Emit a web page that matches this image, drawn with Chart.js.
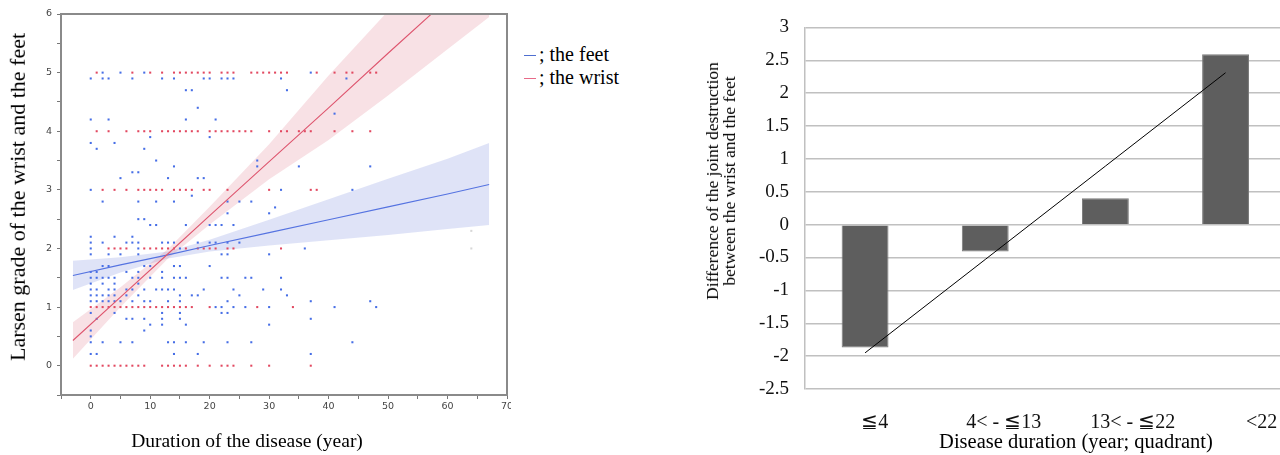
<!DOCTYPE html>
<html><head><meta charset="utf-8">
<script src="https://cdn.jsdelivr.net/npm/chart.js@4.4.1/dist/chart.umd.min.js"></script>
<style>
body{margin:0;width:1280px;height:455px;background:#fff;position:relative;overflow:hidden;}
.box{position:absolute;top:0;height:455px;overflow:hidden}
.t{position:absolute;white-space:nowrap;color:#000;font-family:"Liberation Serif","Times New Roman",serif;transform:translate(-50%,-50%);line-height:1.2;text-align:center}
.r{transform:translate(-50%,-50%) rotate(-90deg)}
.leg{position:absolute;left:524px;font-family:"Liberation Serif",serif;font-size:20px;color:#000;white-space:nowrap;line-height:1}
.mk{display:inline-block;width:12px;height:0;border-top:1.6px solid;vertical-align:middle;margin-right:3px;position:relative;top:-1px}
</style></head><body>
<div class="box" style="left:0;width:511px"><canvas id="c1" width="540" height="455"></canvas></div>
<div class="box" style="left:680px;width:600px"><canvas id="c2" width="620" height="455"></canvas></div>

<div class="t r" style="left:18px;top:197px;font-size:22px">Larsen grade of the wrist and the feet</div>
<div class="t" style="left:247px;top:441px;font-size:19.5px">Duration of the disease (year)</div>
<div class="leg" style="top:44px"><span class="mk" style="border-color:#4f6fd0"></span>; the feet</div>
<div class="leg" style="top:67px"><span class="mk" style="border-color:#e86a88"></span>; the wrist</div>

<div class="t r" style="left:721px;top:181px;font-size:17.5px;line-height:17px">Difference of the joint destruction<br>between the wrist and the feet</div>
<div class="t" style="left:1076px;top:441px;font-size:20.5px">Disease duration (year; quadrant)</div>

<script>
// ---------- Left panel data ----------
const xTicksYears = [0, 10, 20, 30, 40, 50, 60, 70];
const yTicksGrade = [0, 1, 2, 3, 4, 5, 6];

// wrist grades (integer) : disease duration of each patient at that grade
const wristAt0 = [0,1,2,3,4,5,6,7,8,9,12,13,14,15,16,18,20,22,23,24,27,30,37];
const wristAt1 = [0,1,2,3,4,5,6,7,8,9,10,11,12,13,14,15,16,17,20,28,34];
const wristAt2 = [3,4,5,6,9,10,11,12,13,14,16,18,19,20,21,23,24,32];
const wristAt3 = [2,4,6,8,9,10,11,12,14,15,16,17,19,20,23,30,37,38];
const wristAt4 = [1,3,6,8,9,10,12,13,14,15,16,17,18,20,21,22,23,24,25,26,27,30,32,33,35,36,37,41,44,47];
const wristAt5 = [1,7,10,12,14,15,16,17,18,19,20,22,23,24,27,28,29,30,31,32,33,38,41,43,44,47,48];

// feet grades (mean) : [duration, grade]
const feetPoints = [
 [2,5],[5,5],[9,5],[37,5],
 [0,4.9],[2,4.9],[3,4.9],[7,4.9],[12,4.9],[14,4.9],[19,4.9],[20,4.9],[22,4.9],[23,4.9],[24,4.9],[32,4.9],[43,4.9],
 [16,4.7],[17,4.7],[33,4.7],[18,4.4],[41,4.3],
 [0,4.2],[3,4.2],[16,4.2],[21,4.2],[10,3.9],[20,3.9],[0,3.8],[4,3.8],[1,3.7],[9,3.7],
 [11,3.5],[28,3.5],[14,3.4],[28,3.4],[35,3.4],[47,3.4],[7,3.3],[8,3.3],
 [5,3.2],[13,3.2],[18,3.2],[19,3.2],[0,3],[32,3],[44,3],[17,2.9],
 [2,2.8],[8,2.8],[11,2.8],[14,2.8],[23,2.8],[25,2.8],[27,2.8],[31,2.7],[23,2.6],[30,2.6],[8,2.5],[9,2.5],
 [10,2.4],[11,2.4],[16,2.4],[20,2.4],[21,2.4],[22,2.4],[24,2.4],[0,2.2],[4,2.2],[7,2.2],
 [0,2.1],[2,2.1],[6,2.1],[7,2.1],[8,2.1],[12,2.1],[13,2.1],[14,2.1],[18,2.1],[20,2.1],[21,2.1],[23,2.1],[25,2.1],
 [0,2],[8,2],[15,2],[36,2],
 [0,1.9],[3,1.9],[5,1.9],[8,1.9],[22,1.9],[23,1.9],[30,1.9],
 [2,1.7],[3,1.7],[9,1.7],[10,1.7],[14,1.7],[15,1.7],[20,1.7],
 [0,1.6],[1,1.6],[6,1.6],[8,1.6],[12,1.6],
 [0,1.5],[1,1.5],[2,1.5],[3,1.5],[4,1.5],[7,1.5],[8,1.5],[10,1.5],[12,1.5],[14,1.5],[15,1.5],[16,1.5],[22,1.5],[23,1.5],[26,1.5],[27,1.5],[32,1.5],
 [0,1.4],[2,1.4],[4,1.4],[8,1.4],
 [0,1.3],[1,1.3],[3,1.3],[4,1.3],[6,1.3],[7,1.3],[9,1.3],[11,1.3],[12,1.3],[13,1.3],[14,1.3],[19,1.3],[24,1.3],[29,1.3],[32,1.3],
 [0,1.2],[1,1.2],[2,1.2],[3,1.2],[4,1.2],[6,1.2],[8,1.2],[15,1.2],[17,1.2],[18,1.2],[25,1.2],[33,1.2],
 [0,1.1],[1,1.1],[2,1.1],[3,1.1],[4,1.1],[5,1.1],[7,1.1],[9,1.1],[10,1.1],[13,1.1],[15,1.1],[23,1.1],[37,1.1],[47,1.1],
 [21,1],[22,1],[24,1],[26,1],[30,1],[41,1],[48,1],
 [0,0.9],[4,0.9],[12,0.9],[15,0.9],[22,0.9],[23,0.9],
 [1,0.8],[6,0.8],[7,0.8],[9,0.8],[12,0.8],[15,0.8],[37,0.8],
 [10,0.7],[12,0.7],[16,0.7],[30,0.7],[0,0.6],[9,0.6],[0,0.5],
 [0,0.4],[2,0.4],[5,0.4],[7,0.4],[13,0.4],[14,0.4],[16,0.4],[19,0.4],[23,0.4],[27,0.4],[44,0.4],
 [0,0.2],[1,0.2],[14,0.2],[18,0.2],[37,0.2]
];
const otherPoints = [[64,2.3],[64,2.0]];

// regression lines and 95% confidence bands
const bandX    = [-3, 5, 13, 20, 30, 40, 50, 60, 67];
const feetFit  = [1.54, 1.72, 1.89, 2.05, 2.27, 2.49, 2.71, 2.93, 3.09];
const feetLo   = [1.29, 1.59, 1.83, 1.95, 2.05, 2.14, 2.23, 2.33, 2.40];
const feetHi   = [1.79, 1.85, 1.95, 2.15, 2.49, 2.84, 3.19, 3.53, 3.80];
const wristFit = [0.43, 1.17, 1.91, 2.56, 3.48, 4.40, 5.33, 6.25, 6.90];
const wristLo  = [0.12, 1.00, 1.83, 2.41, 3.18, 3.85, 4.61, 5.40, 5.95];
const wristHi  = [0.74, 1.34, 1.99, 2.71, 3.78, 4.95, 6.05, 7.10, 7.85];

// ---------- Right panel data ----------
const durationGroups = ['≦4', '4< - ≦13', '13< - ≦22', '<22'];
const diffValues = [-1.87, -0.41, 0.40, 2.59];
const diffTrend  = [-1.95, -0.53, 0.89, 2.31];
const diffTicks  = [-2.5, -2, -1.5, -1, -0.5, 0, 0.5, 1, 1.5, 2, 2.5, 3];
const groupLabelSlots = [0, 1, 2, 3];

// ---------- build ----------
const xy = (xs, ys) => xs.map((x, i) => ({x: x, y: ys[i]}));
const lvl = (xs, g) => xs.map(x => ({x: x, y: g}));
const pairs = arr => arr.map(p => ({x: p[0], y: p[1]}));

const BLUE = 'rgb(70,110,230)', RED = 'rgb(226,72,96)';
const wristData = [].concat(lvl(wristAt0,0), lvl(wristAt1,1), lvl(wristAt2,2), lvl(wristAt3,3), lvl(wristAt4,4), lvl(wristAt5,5));

const band = (d, color, fill, ord) => ({type:'line', data:d, borderWidth:0, pointRadius:0, fill:fill, backgroundColor:color, borderColor:'rgba(0,0,0,0)', order:ord, tension:0});
const pts = (d, color) => ({type:'scatter', data:d, pointStyle:'rect', pointRadius:1.45, borderWidth:0, backgroundColor:color, order:5});

const boxPlugin = {
  id:'box',
  afterDraw(chart){
    const a = chart.chartArea, c = chart.ctx;
    c.save(); c.strokeStyle = '#8a8a8a'; c.lineWidth = 2;
    c.beginPath(); c.moveTo(a.left, a.top); c.lineTo(a.right, a.top); c.lineTo(a.right, a.bottom); c.stroke();
    c.restore();
  }
};

new Chart(document.getElementById('c1'), {
  type:'scatter',
  data:{datasets:[
    band(xy(bandX, feetHi), 'rgba(120,140,220,0.24)', '+1', 20),
    band(xy(bandX, feetLo), 'rgba(0,0,0,0)', false, 20),
    band(xy(bandX, wristHi), 'rgba(225,120,135,0.22)', '+1', 19),
    band(xy(bandX, wristLo), 'rgba(0,0,0,0)', false, 19),
    pts(pairs(feetPoints), BLUE),
    pts(wristData, RED),
    pts(pairs(otherPoints), 'rgb(215,215,215)'),
    {type:'line', data:xy(bandX, feetFit), borderColor:'rgb(85,115,225)', borderWidth:1.1, pointRadius:0, fill:false, order:1},
    {type:'line', data:xy(bandX, wristFit), borderColor:'rgb(222,85,110)', borderWidth:1.1, pointRadius:0, fill:false, order:0}
  ]},
  options:{
    responsive:false, devicePixelRatio:1, animation:false,
    layout:{padding:{left:0, top:14, right:33, bottom:40}},
    plugins:{legend:{display:false}, tooltip:{enabled:false}},
    scales:{
      x:{type:'linear', min:-5, max:70,
         afterFit(s){ s.height = 20; },
         ticks:{stepSize:5, autoSkip:false, maxRotation:0, padding:2, color:'#444',
                font:{family:'DejaVu Sans', size:9.5},
                callback:v => xTicksYears.includes(v) ? String(v) : ''},
         grid:{drawOnChartArea:false, drawTicks:true, tickLength:4, tickColor:'#777'},
         border:{display:true, color:'#8a8a8a', width:2}},
      y:{type:'linear', min:-0.5, max:6,
         afterFit(s){ s.width = 61; },
         ticks:{stepSize:0.5, autoSkip:false, padding:5, color:'#444',
                font:{family:'DejaVu Sans', size:9.5},
                callback:v => yTicksGrade.includes(v) ? String(v) : ''},
         grid:{drawOnChartArea:false, drawTicks:true, tickLength:4, tickColor:'#777'},
         border:{display:true, color:'#8a8a8a', width:2}}
    }
  },
  plugins:[boxPlugin]
});

new Chart(document.getElementById('c2'), {
  type:'bar',
  data:{labels:durationGroups, datasets:[
    {type:'line', data:diffTrend, borderColor:'#000', borderWidth:1, pointRadius:0, fill:false, order:0},
    {type:'bar', data:diffValues, backgroundColor:'#5e5e5e', borderColor:'#7a7a7a', borderWidth:1,
     barPercentage:0.39, categoryPercentage:1, order:1}
  ]},
  options:{
    responsive:false, devicePixelRatio:1, animation:false,
    layout:{padding:{left:0, top:22, right:13, bottom:26}},
    plugins:{legend:{display:false}, tooltip:{enabled:false}},
    scales:{
      x:{display:false},
      xl:{type:'linear', position:'bottom', min:-0.541, max:3.186, offset:false,
          afterFit(s){ s.height = 40; },
          afterBuildTicks(s){ s.ticks = groupLabelSlots.map(v => ({value:v})); },
          ticks:{padding:22, color:'#111', maxRotation:0, autoSkip:false,
                 font:{family:'Liberation Serif', size:20},
                 callback:v => durationGroups[v]},
          grid:{display:false, drawTicks:false, offset:false},
          border:{display:false}},
      y:{min:-2.5, max:3,
         afterFit(s){ s.width = 125; },
         ticks:{stepSize:0.5, padding:16, color:'#111',
                font:{family:'Liberation Serif', size:19},
                callback:v => diffTicks.includes(v) ? String(v) : ''},
         grid:{color:'#c0c0c0', lineWidth:1.5, drawTicks:false},
         border:{display:true, color:'#c0c0c0', width:1.5}}
    }
  }
});
</script>
</body></html>
